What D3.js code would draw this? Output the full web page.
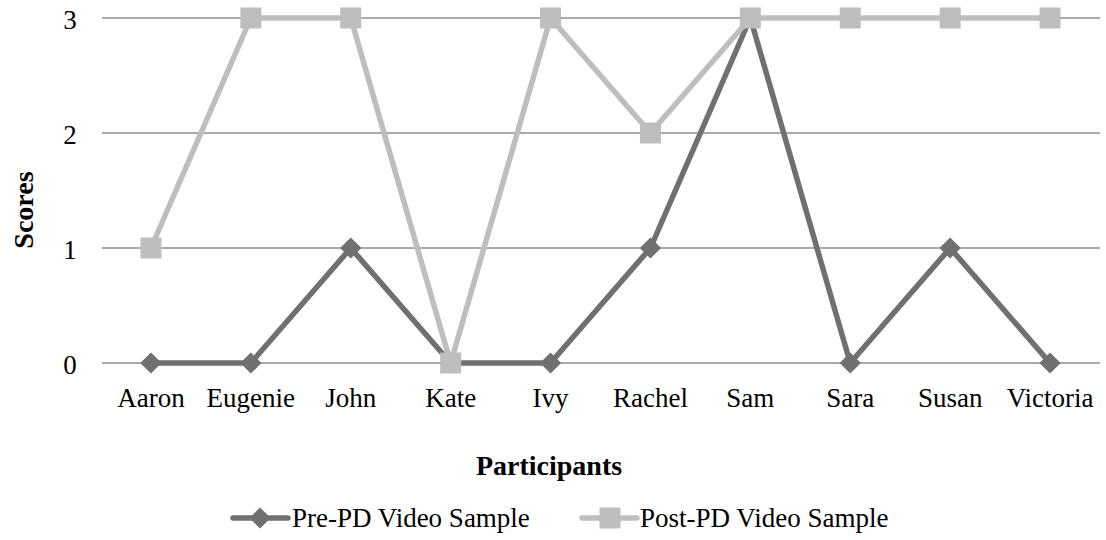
<!DOCTYPE html>
<html>
<head>
<meta charset="utf-8">
<script src="https://cdn.jsdelivr.net/npm/d3@7"></script>
<style>
  html, body { margin: 0; padding: 0; background: #fff; }
  svg { display: block; }
  text { font-family: "Liberation Serif", "Times New Roman", serif; fill: #000; }
</style>
</head>
<body>
<svg id="chart" width="1106" height="540"></svg>
<script>
const categories = ["Aaron", "Eugenie", "John", "Kate", "Ivy", "Rachel", "Sam", "Sara", "Susan", "Victoria"];
const preValues = [0, 0, 1, 0, 0, 1, 3, 0, 1, 0];
const postValues = [1, 3, 3, 0, 3, 2, 3, 3, 3, 3];
const yTicks = [0, 1, 2, 3];
const seriesNames = ["Pre-PD Video Sample", "Post-PD Video Sample"];
const xTitle = "Participants";
const yTitle = "Scores";

const svg = d3.select("#chart");
const plot = { left: 101, right: 1100, top: 18, bottom: 363 };

const x = d3.scaleBand().domain(categories).range([plot.left, plot.right]);
const y = d3.scaleLinear().domain([0, 3]).range([plot.bottom, plot.top]);

const fontSize = 27;

// gridlines
svg.append("g").selectAll("line").data(yTicks).join("line")
  .attr("x1", plot.left + 1).attr("x2", plot.right)
  .attr("y1", d => y(d)).attr("y2", d => y(d))
  .attr("stroke", "#8e8e8e").attr("stroke-width", 1.6);

// y tick labels
svg.append("g").selectAll("text").data(yTicks).join("text")
  .attr("x", 70).attr("y", d => y(d) + 11)
  .attr("text-anchor", "middle")
  .style("font-size", fontSize + "px")
  .text(d => d);

// x tick labels
svg.append("g").selectAll("text").data(categories).join("text")
  .attr("x", d => x(d) + x.bandwidth() / 2).attr("y", 407)
  .attr("text-anchor", "middle")
  .style("font-size", fontSize + "px")
  .text(d => d);

// axis titles
svg.append("text")
  .attr("x", 549).attr("y", 475)
  .attr("text-anchor", "middle")
  .style("font-size", "28px").style("font-weight", "bold")
  .text(xTitle);

svg.append("text")
  .attr("transform", "translate(33,210) rotate(-90)")
  .attr("text-anchor", "middle")
  .style("font-size", "28px").style("font-weight", "bold")
  .text(yTitle);

const preColor = "#707070";
const postColor = "#bebebe";
const cx = d => x(d) + x.bandwidth() / 2;

const line = d3.line().x(d => cx(d.c)).y(d => y(d.v));
const preData = categories.map((c, i) => ({ c, v: preValues[i] }));
const postData = categories.map((c, i) => ({ c, v: postValues[i] }));

const diamond = d3.symbol().type(d3.symbolSquare).size(15 * 15);
const sq = 21;

// pre series
svg.append("path").datum(preData)
  .attr("d", line).attr("fill", "none")
  .attr("stroke", preColor).attr("stroke-width", 5.5).attr("stroke-linejoin", "round");
svg.append("g").selectAll("path").data(preData).join("path")
  .attr("d", diamond)
  .attr("transform", d => `translate(${cx(d.c)},${y(d.v)}) rotate(45)`)
  .attr("fill", preColor);

// post series
svg.append("path").datum(postData)
  .attr("d", line).attr("fill", "none")
  .attr("stroke", postColor).attr("stroke-width", 5.5).attr("stroke-linejoin", "round");
svg.append("g").selectAll("rect").data(postData).join("rect")
  .attr("x", d => cx(d.c) - sq / 2).attr("y", d => y(d.v) - sq / 2)
  .attr("width", sq).attr("height", sq)
  .attr("fill", postColor);

// legend
const legendY = 518;
const leg = svg.append("g");
const legItems = [
  { name: seriesNames[0], color: preColor, x0: 233, x1: 288, mx: 260, marker: "diamond", tx: 292 },
  { name: seriesNames[1], color: postColor, x0: 582, x1: 637, mx: 610, marker: "square", tx: 640 }
];
legItems.forEach(it => {
  leg.append("line")
    .attr("x1", it.x0).attr("x2", it.x1).attr("y1", legendY).attr("y2", legendY)
    .attr("stroke", it.color).attr("stroke-width", 5.5).attr("stroke-linecap", "round");
  if (it.marker === "diamond") {
    leg.append("path").attr("d", diamond)
      .attr("transform", `translate(${it.mx},${legendY}) rotate(45)`)
      .attr("fill", it.color);
  } else {
    leg.append("rect").attr("x", it.mx - sq / 2).attr("y", legendY - sq / 2)
      .attr("width", sq).attr("height", sq).attr("fill", it.color);
  }
  leg.append("text").attr("x", it.tx).attr("y", legendY + 9)
    .style("font-size", fontSize + "px")
    .text(it.name);
});
</script>
</body>
</html>
